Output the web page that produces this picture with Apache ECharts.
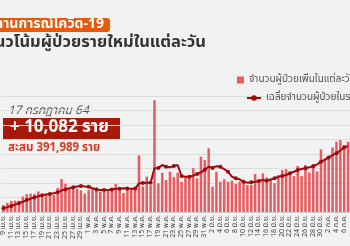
<!DOCTYPE html>
<html>
<head>
<meta charset="utf-8">
<script src="https://cdn.jsdelivr.net/npm/echarts@6/dist/echarts.min.js"></script>
<style>
html,body{margin:0;padding:0;background:#f2f2f2;}
#main{width:350px;height:246px;}
</style>
</head>
<body>
<div id="main"></div>
<script>
// เดือนที่แสดง: [ชื่อเดือน, วันแรก, วันสุดท้าย]
var months = [['เม.ย.', 9, 30], ['พ.ค.', 1, 31], ['มิ.ย.', 1, 30], ['ก.ค.', 1, 7]];
var days = [];
months.forEach(function(m){
    for(var d=m[1]; d<=m[2]; d++){
        days.push(d + ' ' + m[0]);
    }
});

// จำนวนผู้ป่วยเพิ่มในแต่ละวัน (อ่านค่าจากภาพ)
var newCases = [
    600, 790, 960, 980, 970, 1330, 1540, 1580, 1550, 1770,
    1390, 1440, 1460, 1470, 2070, 2840, 2440, 2050, 2180, 2010,
    1870, 1580, 1890, 2040, 2100, 1760, 1730, 1910, 2040, 2420,
    2100, 1630, 1920, 1980, 2050, 4890, 2200, 3050, 2300, 9635,
    2470, 3390, 2760, 3470, 3020, 3390, 2610, 3040, 3190, 3770,
    2900, 4770, 4480, 5490, 2180, 3470, 2610, 2820, 2610, 2700,
    2410, 2610, 2530, 2330, 2330, 3280, 2610, 3340, 2990, 2820,
    2470, 3190, 3620, 3700, 3340, 3100, 3970, 3100, 4050, 3400,
    4140, 3500, 5400, 4630, 4770, 5570, 6060, 6200, 5780, 6060
];

// เฉลี่ยจำนวนผู้ป่วยในรอบ 7 วัน (อ่านค่าจากภาพ)
var avg7 = [
    320, 420, 520, 640, 750, 880, 1030, 1140, 1260, 1360,
    1440, 1500, 1560, 1610, 1700, 1850, 1950, 2050, 2130, 2200,
    2240, 2200, 2180, 2050, 1950, 1900, 1900, 1900, 1950, 2000,
    2010, 2040, 2020, 2010, 2020, 2470, 2500, 2530, 2530, 3770,
    3800, 4050, 3900, 3850, 3970, 4050, 3100, 3040, 3040, 3130,
    3280, 3400, 3650, 3900, 3800, 3950, 3900, 3700, 3470, 3040,
    2900, 2820, 2610, 2530, 2560, 2610, 2670, 2760, 2700, 2800,
    2900, 3040, 3100, 3190, 3340, 3470, 3620, 3700, 3770, 3850,
    3950, 4100, 4340, 4500, 4700, 4900, 5060, 5300, 5570, 5690
];

var barName = 'จำนวนผู้ป่วยเพิ่มในแต่ละวัน';
var lineName = 'เฉลี่ยจำนวนผู้ป่วยในรอบ 7 วัน';
var thai = '"Noto Sans Thai", "Noto Sans", "DejaVu Sans", sans-serif';

var myChart = echarts.init(document.getElementById('main'));
var option = {
    backgroundColor: '#f2f2f2',
    textStyle: { fontFamily: thai },
    animation: false,
    grid: { left: 0, right: -2, top: 96, bottom: 34 },
    legend: [{
        data: [barName], left: 232, top: 70, icon: 'rect',
        itemWidth: 7, itemHeight: 7, itemGap: 4,
        textStyle: { fontSize: 10, color: '#555', fontFamily: thai }
    }, {
        data: [lineName], left: 241, top: 88,
        itemWidth: 14, itemHeight: 7,
        textStyle: { fontSize: 10, color: '#555', fontFamily: thai }
    }],
    graphic: [
        { type: 'rect', shape: { x: -30, y: 18, width: 140, height: 14, r: 3 }, style: { fill: '#e8590c' } },
        { type: 'text', style: { text: 'สถานการณ์โควิด-19', x: 104, y: 25, align: 'right', verticalAlign: 'middle', fill: '#fff', font: 'bold 14px ' + thai } },
        { type: 'text', style: { text: 'แนวโน้มผู้ป่วยรายใหม่ในแต่ละวัน', x: 206, y: 44, align: 'right', verticalAlign: 'middle', fill: '#333', font: 'bold 16.5px ' + thai } },
        { type: 'text', style: { text: '17 กรกฎาคม 64', x: 8, y: 112, verticalAlign: 'middle', fill: '#555', font: 'italic 12px ' + thai } },
        { type: 'rect', shape: { x: 3, y: 118, width: 117, height: 22 }, style: { fill: '#a6190b' } },
        { type: 'text', style: { text: '+ 10,082 ราย', x: 10, y: 129, verticalAlign: 'middle', fill: '#fff', font: 'bold 17px ' + thai } },
        { type: 'text', style: { text: 'สะสม 391,989 ราย', x: 8, y: 149, verticalAlign: 'middle', fill: '#d9381e', font: 'bold 11.5px ' + thai } }
    ],
    xAxis: {
        type: 'category',
        data: days,
        axisLine: { lineStyle: { color: '#ccc' } },
        axisTick: { show: false },
        axisLabel: { interval: 1, rotate: 90, fontSize: 7, color: '#444', margin: 3 }
    },
    yAxis: {
        type: 'value',
        min: 0, max: 10000, interval: 1250,
        axisLabel: { show: false },
        splitLine: { lineStyle: { color: '#dcdcdc' } }
    },
    series: [{
        name: barName,
        type: 'bar',
        data: newCases,
        barWidth: '65%',
        itemStyle: { color: '#e85b60' }
    }, {
        name: lineName,
        type: 'line',
        data: avg7,
        symbol: 'circle',
        symbolSize: 4,
        lineStyle: { color: '#9e0b0f', width: 2 },
        itemStyle: { color: '#9e0b0f' }
    }]
};
myChart.setOption(option);
</script>
</body>
</html>
